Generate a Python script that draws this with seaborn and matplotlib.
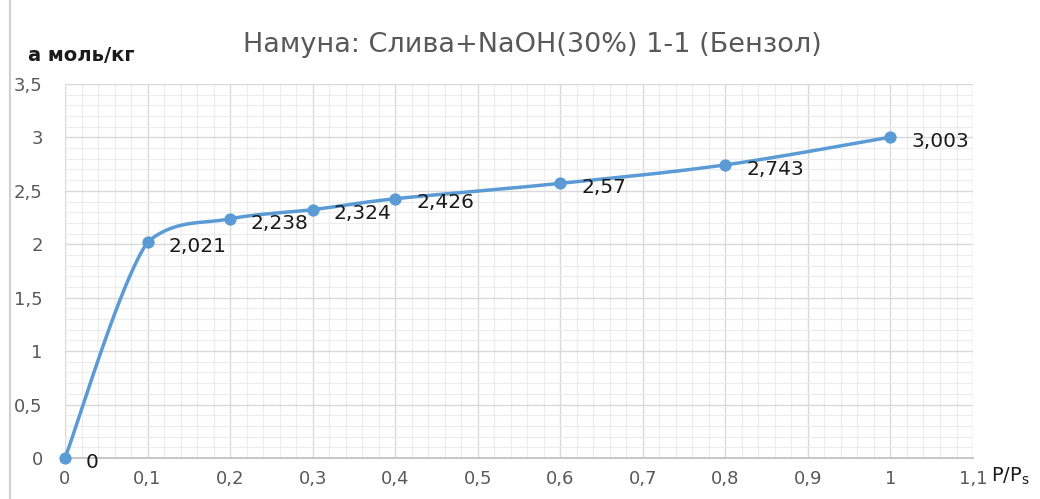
import numpy as np
import pandas as pd
import matplotlib.pyplot as plt
import matplotlib as mpl
import seaborn as sns
from matplotlib.ticker import MultipleLocator, FuncFormatter

# data
p_ps = [0, 0.1, 0.2, 0.3, 0.4, 0.6, 0.8, 1.0]
adsorption = [0, 2.021, 2.238, 2.324, 2.426, 2.57, 2.743, 3.003]
point_labels = ["0", "2,021", "2,238", "2,324", "2,426", "2,57", "2,743", "3,003"]

title = "Намуна: Слива+NaOH(30%) 1-1 (Бензол)"
line_color = "#5B9BD5"

sns.set_theme(style="white")
plt.rcParams['font.family'] = ['DejaVu Sans']

df = pd.DataFrame({"p": p_ps, "a": adsorption})


def smooth_curve(x, y, n=40, k=1 / 6):
    # excel-like smoothed line (bezier through the points, no overshoot)
    x = np.asarray(x, float)
    y = np.asarray(y, float)
    xs, ys = [], []
    for i in range(len(x) - 1):
        i0 = max(i - 1, 0)
        i3 = min(i + 2, len(x) - 1)
        lo, hi = min(y[i], y[i + 1]), max(y[i], y[i + 1])
        c1x = x[i] + (x[i + 1] - x[i0]) * k
        c1y = np.clip(y[i] + (y[i + 1] - y[i0]) * k, lo, hi)
        c2x = x[i + 1] - (x[i3] - x[i]) * k
        c2y = np.clip(y[i + 1] - (y[i3] - y[i]) * k, lo, hi)
        t = np.linspace(0, 1, n)
        bx = (1 - t) ** 3 * x[i] + 3 * (1 - t) ** 2 * t * c1x + 3 * (1 - t) * t ** 2 * c2x + t ** 3 * x[i + 1]
        by = (1 - t) ** 3 * y[i] + 3 * (1 - t) ** 2 * t * c1y + 3 * (1 - t) * t ** 2 * c2y + t ** 3 * y[i + 1]
        xs.extend(bx)
        ys.extend(by)
    return np.array(xs), np.array(ys)


fig = plt.figure(figsize=(10.4, 4.99), dpi=100)
ax = fig.add_axes([0.0625, 0.0822, 0.8731, 0.7495])

sx, sy = smooth_curve(p_ps, adsorption)
ax.plot(sx, sy, color=line_color, lw=2.5, zorder=3, solid_capstyle='round', clip_on=False)
sns.scatterplot(data=df, x="p", y="a", ax=ax, color=line_color, s=78,
                edgecolor=line_color, linewidth=0, zorder=4, legend=False, clip_on=False)

for x, y, lab in zip(p_ps, adsorption, point_labels):
    ax.annotate(lab, (x, y), xytext=(15, -3), textcoords="offset points",
                ha="left", va="center", fontsize=14.5, color="#1a1a1a")

ax.set_xlim(0, 1.1)
ax.set_ylim(0, 3.5)
ax.xaxis.set_major_locator(MultipleLocator(0.1))
ax.xaxis.set_minor_locator(MultipleLocator(0.02))
ax.yaxis.set_major_locator(MultipleLocator(0.5))
ax.yaxis.set_minor_locator(MultipleLocator(0.1))

comma = FuncFormatter(lambda v, pos: ("%g" % round(v, 2)).replace(".", ","))
ax.xaxis.set_major_formatter(comma)
ax.yaxis.set_major_formatter(comma)

ax.grid(which="major", color="#d9d9d9", lw=1.0)
ax.grid(which="minor", color="#ececec", lw=0.8)
ax.set_axisbelow(True)
for s in ["top", "right", "left"]:
    ax.spines[s].set_visible(False)
ax.spines["bottom"].set_color("#bfbfbf")
ax.tick_params(axis="both", which="both", length=0, labelsize=13,
               labelcolor="#595959")
ax.tick_params(axis="x", pad=9)
ax.tick_params(axis="y", pad=16)
ax.set_xlabel("")
ax.set_ylabel("")

fig.text(0.512, 0.91, title, ha="center", va="center", fontsize=19.5, color="#595959")
fig.text(0.027, 0.888, "а моль/кг", ha="left", va="center", fontsize=14,
         fontweight="bold", color="#1a1a1a")
fig.text(0.953, 0.045, "P/P$_\\mathregular{s}$", ha="left", va="center", fontsize=14,
         color="#1a1a1a")

# chart area border on the left
fig.add_artist(mpl.lines.Line2D([0.0095, 0.0095], [0, 1], color="#d0d0d0", lw=1.5))

fig.savefig("out.png", dpi=100)
